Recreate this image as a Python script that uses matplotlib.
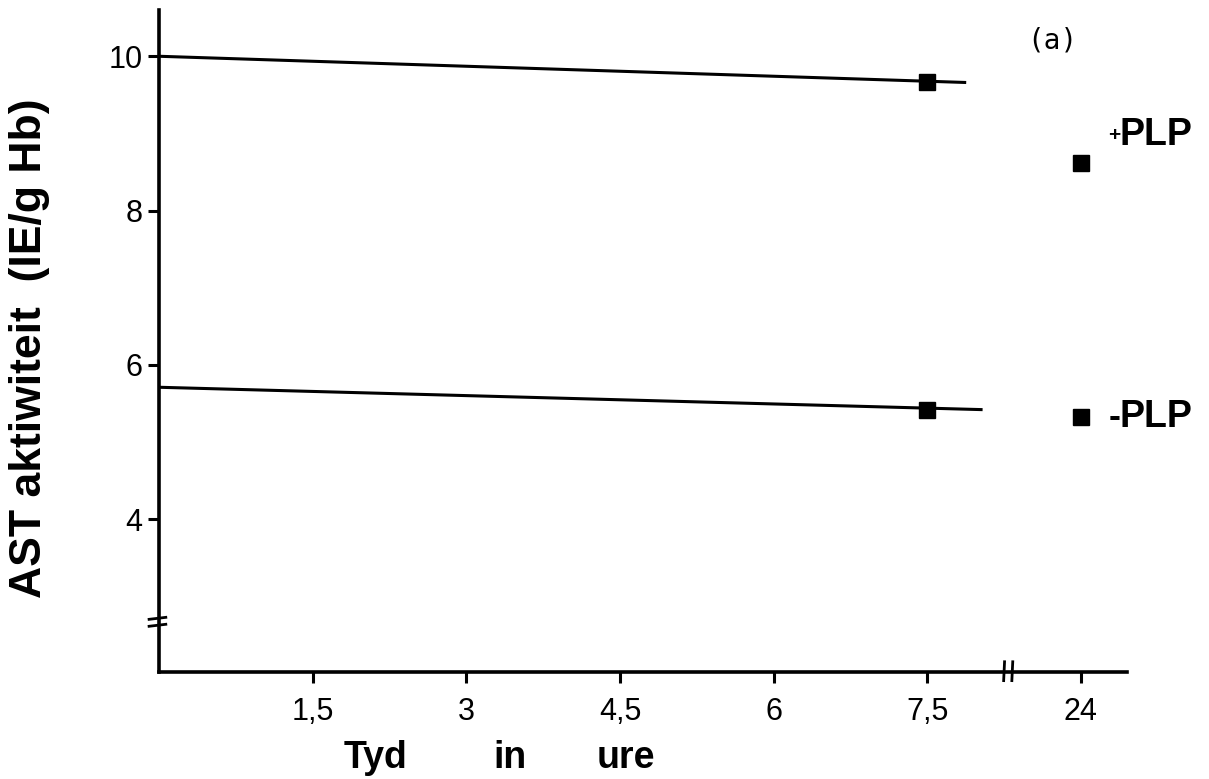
import matplotlib
matplotlib.use("Agg")
import matplotlib.pyplot as plt

# measurement times (h) and AST activity (IE/g Hb)
hours = [7.5]
late_hour = 24
plus_plp = [9.66]
minus_plp = [5.42]
plus_plp_24 = 8.62
minus_plp_24 = 5.33

# fitted lines drawn through the early points
fit_x_plus = [0.0, 7.88]
fit_y_plus = [10.0, 9.66]
fit_x_minus = [0.0, 8.04]
fit_y_minus = [5.71, 5.42]

xtick_vals = [1.5, 3, 4.5, 6, 7.5]
xtick_labels = ["1,5", "3", "4,5", "6", "7,5"]
yticks = [4, 6, 8, 10]

# the 24 h point sits after the axis break
late_pos = 9.0
break_x = 8.29
break_y = 2.67

plt.rcParams["font.family"] = ["Liberation Sans", "DejaVu Sans"]
tick_font = ["Liberation Sans Narrow", "Liberation Sans", "DejaVu Sans"]

fig = plt.figure(figsize=(12.09, 7.79), dpi=100)
ax = fig.add_axes([0.1315, 0.1374, 0.8007, 0.8498])

lw = 2.2
ax.plot(fit_x_plus, fit_y_plus, color="black", lw=lw, solid_capstyle="butt")
ax.plot(fit_x_minus, fit_y_minus, color="black", lw=lw, solid_capstyle="butt")
ax.plot(hours, plus_plp, "s", color="black", ms=12)
ax.plot(hours, minus_plp, "s", color="black", ms=12)
ax.plot([late_pos], [plus_plp_24], "s", color="black", ms=12, clip_on=False)
ax.plot([late_pos], [minus_plp_24], "s", color="black", ms=12, clip_on=False)

ax.set_xlim(0, 9.45)
ax.set_ylim(2.02, 10.6)

ax.set_xticks(xtick_vals + [late_pos])
ax.set_xticklabels(xtick_labels + [str(late_hour)], family=tick_font, fontsize=22)
ax.set_yticks(yticks)
ax.set_yticklabels([str(v) for v in yticks], family=tick_font, fontsize=22)

for side in ("top", "right"):
    ax.spines[side].set_visible(False)
for side in ("left", "bottom"):
    ax.spines[side].set_linewidth(2.6)
ax.tick_params(axis="x", direction="out", length=8, width=2.2, pad=10)
ax.tick_params(axis="y", direction="out", length=8, width=2.2, pad=4)

# axis break marks
kw = dict(color="black", lw=2.0, clip_on=False, solid_capstyle="butt")
for dy in (-0.045, 0.045):
    ax.plot([-0.11, 0.08], [break_y + dy - 0.015, break_y + dy + 0.015], **kw)
for dx in (-0.04, 0.04):
    ax.plot([break_x + dx - 0.005, break_x + dx + 0.005], [1.89, 2.17], **kw)

# series labels
ax.text(9.27, 8.97, "+", fontsize=15, fontweight="bold", ha="left", va="center", clip_on=False)
ax.text(9.38, 8.98, "PLP", fontsize=27, fontweight="bold", ha="left", va="center", clip_on=False)
ax.text(9.27, 5.32, "-", fontsize=26, fontweight="bold", ha="left", va="center", clip_on=False)
ax.text(9.38, 5.32, "PLP", fontsize=27, fontweight="bold", ha="left", va="center", clip_on=False)

ax.text(8.72, 10.2, "(a)", fontsize=20, family="DejaVu Sans Mono", ha="center", va="center")

# axis titles
fig.text(0.0248, 1 - 348 / 779, "AST aktiwiteit  (IE/g Hb)", rotation=90, fontsize=32,
         fontweight="bold", ha="center", va="center")
for word, xpix in (("Tyd", 376), ("in", 510), ("ure", 626)):
    fig.text(xpix / 1209, 1 - 768 / 779, word, fontsize=27, fontweight="bold",
             ha="center", va="baseline")

fig.savefig("out.png", dpi=100)
